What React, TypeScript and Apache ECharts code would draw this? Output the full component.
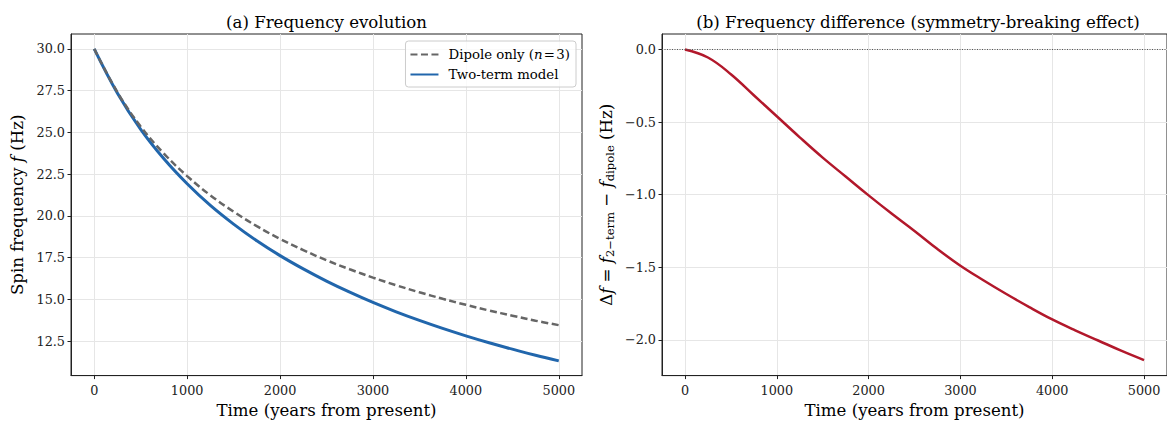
import React, { useEffect, useRef } from "react";
import * as echarts from "echarts";

const years = [0, 250, 500, 750, 1000, 1250, 1500, 1750, 2000, 2250, 2500, 2750, 3000, 3250, 3500, 3750, 4000, 4250, 4500, 4750, 5000];
const dipoleOnly = [30, 27.4, 25.35, 23.73, 22.38, 21.23, 20.25, 19.38, 18.62, 17.95, 17.34, 16.8, 16.3, 15.84, 15.42, 15.03, 14.67, 14.33, 14.02, 13.72, 13.45];
const twoTerm = [30, 27.345, 25.18, 23.415, 21.92, 20.625, 19.505, 18.505, 17.615, 16.82, 16.09, 15.425, 14.81, 14.25, 13.735, 13.255, 12.81, 12.395, 12.015, 11.645, 11.31];
const deltaF = [0, -0.055, -0.17, -0.315, -0.46, -0.605, -0.745, -0.875, -1.005, -1.13, -1.25, -1.375, -1.49, -1.59, -1.685, -1.775, -1.86, -1.935, -2.005, -2.075, -2.14];

const xTicks = [0, 1000, 2000, 3000, 4000, 5000];
const yTicksLeft = [12.5, 15, 17.5, 20, 22.5, 25, 27.5, 30];
const yTicksRight = [-2, -1.5, -1, -0.5, 0];

const FONT = "DejaVu Serif";
const INK = "#222";

export default function App() {
  const ref = useRef<HTMLDivElement>(null);

  useEffect(() => {
    document.body.style.margin = "0";
    const chart = echarts.init(ref.current!, null, { renderer: "svg" });

    const minus = (v: number) => (v < 0 ? "\u2212" + Math.abs(v).toFixed(1) : v.toFixed(1));

    const makeX = (gridIndex: number) => ({
      type: "value",
      gridIndex,
      min: -250,
      max: 5250,
      name: "Time (years from present)",
      nameLocation: "middle",
      nameGap: 25,
      nameTextStyle: { fontFamily: FONT, fontSize: 16.6, color: "#000" },
      axisLine: { show: true, onZero: false, lineStyle: { color: INK, width: 1 } },
      axisTick: { show: true, length: 3.5, customValues: xTicks, lineStyle: { color: INK } },
      axisLabel: { customValues: xTicks, fontFamily: FONT, fontSize: 12.8, color: INK, margin: 8.5, formatter: (v: number) => String(v) },
      splitLine: { show: true, lineStyle: { color: "#e6e6e6", width: 1 } },
    });

    const option: any = {
      animation: false,
      backgroundColor: "#fff",
      textStyle: { fontFamily: FONT },
      grid: [
        { left: 71, top: 34, width: 511, height: 346, show: true, borderColor: INK, borderWidth: 1, backgroundColor: "transparent" },
        { left: 662, top: 34, width: 512, height: 346, show: true, borderColor: INK, borderWidth: 1, backgroundColor: "transparent" },
      ],
      graphic: [
        {
          type: "text",
          x: 326.5,
          y: 22,
          style: { text: "(a) Frequency evolution", fontFamily: FONT, fontSize: 16.6, fill: "#000", textAlign: "center", textVerticalAlign: "middle" },
        },
        {
          type: "text",
          x: 918,
          y: 22,
          style: { text: "(b) Frequency difference (symmetry-breaking effect)", fontFamily: FONT, fontSize: 16.6, fill: "#000", textAlign: "center", textVerticalAlign: "middle" },
        },
      ],
      legend: {
        right: 591,
        top: 41,
        orient: "vertical",
        padding: [7, 6, 6, 4],
        itemGap: 7,
        itemWidth: 28,
        itemHeight: 1,
        backgroundColor: "rgba(255,255,255,0.8)",
        borderColor: "#ccc",
        borderWidth: 1,
        borderRadius: 3,
        data: ["Dipole only", "Two-term model"],
        formatter: (name: string) => (name === "Dipole only" ? "Dipole only ({i|n}\u200a=\u200a3)" : name),
        textStyle: {
          fontFamily: FONT,
          fontSize: 13.3,
          color: "#000",
          padding: [0, 0, 0, 5],
          rich: { i: { fontFamily: FONT, fontSize: 13.3, fontStyle: "italic", color: "#000" } },
        },
      },
      xAxis: [makeX(0), makeX(1)],
      yAxis: [
        {
          type: "value",
          gridIndex: 0,
          min: 10.43,
          max: 30.89,
          name: "Spin frequency {i|f} (Hz)",
          nameLocation: "middle",
          nameGap: 45,
          nameTextStyle: {
            fontFamily: FONT,
            fontSize: 16.6,
            color: "#000",
            rich: { i: { fontFamily: FONT, fontSize: 16.6, fontStyle: "italic", color: "#000" } },
          },
          axisLine: { show: true, onZero: false, lineStyle: { color: INK, width: 1 } },
          axisTick: { show: true, length: 3.5, customValues: yTicksLeft, lineStyle: { color: INK } },
          axisLabel: { customValues: yTicksLeft, fontFamily: FONT, fontSize: 12.8, color: INK, margin: 6, formatter: (v: number) => minus(v) },
          splitLine: { show: true, lineStyle: { color: "#e6e6e6", width: 1 } },
        },
        {
          type: "value",
          gridIndex: 1,
          min: -2.247,
          max: 0.107,
          name: "\u0394{i|f} = {i|f}{s|2\u2212term} \u2212 {i|f}{s|dipole} (Hz)",
          nameLocation: "middle",
          nameGap: 46,
          nameTextStyle: {
            fontFamily: FONT,
            fontSize: 16.6,
            color: "#000",
            rich: {
              i: { fontFamily: FONT, fontSize: 16.6, fontStyle: "italic", color: "#000" },
              s: { fontFamily: FONT, fontSize: 11.6, color: "#000", padding: [8, 0, 0, 0] },
            },
          },
          axisLine: { show: true, onZero: false, lineStyle: { color: INK, width: 1 } },
          axisTick: { show: true, length: 3.5, customValues: yTicksRight, lineStyle: { color: INK } },
          axisLabel: { customValues: yTicksRight, fontFamily: FONT, fontSize: 12.8, color: INK, margin: 6, formatter: (v: number) => minus(v) },
          splitLine: { show: true, lineStyle: { color: "#e6e6e6", width: 1 } },
        },
      ],
      series: [
        {
          name: "Dipole only",
          type: "line",
          xAxisIndex: 0,
          yAxisIndex: 0,
          data: years.map((t, i) => [t, dipoleOnly[i]]),
          showSymbol: false,
          symbol: "none",
          smooth: 0.4,
          lineStyle: { color: "#666666", width: 2.5, type: [7, 3.5] },
          itemStyle: { color: "#666666" },
          z: 3,
        },
        {
          name: "Two-term model",
          type: "line",
          xAxisIndex: 0,
          yAxisIndex: 0,
          data: years.map((t, i) => [t, twoTerm[i]]),
          showSymbol: false,
          symbol: "none",
          smooth: 0.4,
          lineStyle: { color: "#2166ac", width: 3 },
          itemStyle: { color: "#2166ac" },
          z: 2,
        },
        {
          name: "Delta f",
          type: "line",
          xAxisIndex: 1,
          yAxisIndex: 1,
          data: years.map((t, i) => [t, deltaF[i]]),
          showSymbol: false,
          symbol: "none",
          smooth: 0.4,
          lineStyle: { color: "#b2182b", width: 2.5 },
          itemStyle: { color: "#b2182b" },
          markLine: {
            silent: true,
            symbol: ["none", "none"],
            label: { show: false },
            lineStyle: { color: "#555", width: 1, type: [1, 1.5] },
            data: [{ yAxis: 0 }],
          },
        },
      ],
    };

    chart.setOption(option);
    return () => chart.dispose();
  }, []);

  return <div ref={ref} style={{ width: 1167, height: 424 }} />;
}
